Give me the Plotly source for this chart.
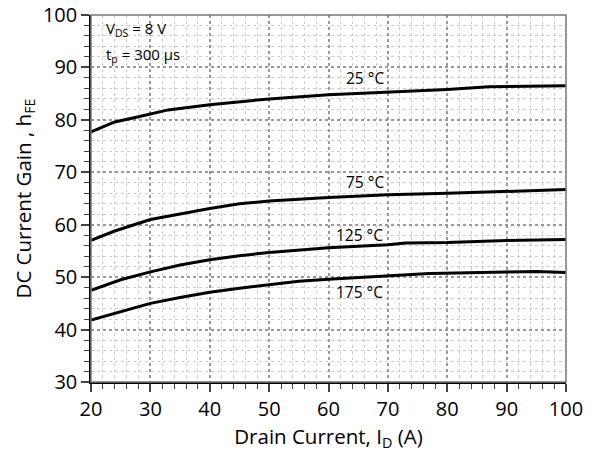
import plotly.graph_objects as go

x_25 = [20, 24, 28, 33, 40, 50, 60, 70, 80, 87, 100]
y_25 = [77.7, 79.6, 80.6, 81.9, 82.9, 84.0, 84.8, 85.3, 85.8, 86.3, 86.5]

x_75 = [20, 24, 30, 35, 40, 45, 50, 60, 70, 80, 90, 100]
y_75 = [57.0, 58.8, 61.0, 62.1, 63.1, 64.0, 64.5, 65.2, 65.7, 66.0, 66.3, 66.7]

x_125 = [20, 25, 30, 35, 40, 45, 50, 60, 70, 73, 80, 90, 100]
y_125 = [47.5, 49.5, 51.0, 52.3, 53.3, 54.1, 54.7, 55.6, 56.2, 56.5, 56.6, 57.0, 57.2]

x_175 = [20, 25, 30, 35, 40, 45, 50, 55, 60, 70, 77, 90, 95, 100]
y_175 = [41.8, 43.4, 45.0, 46.1, 47.1, 47.9, 48.5, 49.2, 49.6, 50.3, 50.7, 51.0, 51.1, 50.9]

labels = ["25 °C", "75 °C", "125 °C", "175 °C"]
label_x = [66.1, 66.1, 65.3, 65.3]
label_y = [88.0, 68.1, 58.0, 47.2]

font = "Open Sans"
fig = go.Figure()
for xs, ys in [(x_25, y_25), (x_75, y_75), (x_125, y_125), (x_175, y_175)]:
    fig.add_trace(go.Scatter(x=xs, y=ys, mode="lines", line=dict(color="black", width=3),
                             showlegend=False, hoverinfo="skip"))

for t, lx, ly in zip(labels, label_x, label_y):
    fig.add_annotation(x=lx, y=ly, text=t, showarrow=False, font=dict(family=font, size=15.5, color="black"))

fig.add_annotation(x=0.027, y=0.962, xref="paper", yref="paper", xanchor="left", yanchor="middle",
                   text="V<sub>DS</sub> = 8 V", showarrow=False, font=dict(family=font, size=15, color="black"))
fig.add_annotation(x=0.027, y=0.89, xref="paper", yref="paper", xanchor="left", yanchor="middle",
                   text="t<sub>p</sub> = 300 µs", showarrow=False, font=dict(family=font, size=15, color="black"))

fig.add_shape(type="rect", xref="paper", yref="paper", x0=0, y0=0, x1=1, y1=1,
              line=dict(color="#777777", width=1.5), layer="above")

axis_common = dict(
    automargin=False,
    showline=True, linecolor="black", linewidth=1.5,
    ticks="outside", ticklen=8, tickwidth=1.5, tickcolor="#444444",
    showgrid=True, gridcolor="#999999", griddash="dot", gridwidth=1.5,
    zeroline=False,
    tickfont=dict(family=font, size=20, color="black"),
    minor=dict(dtick=2, ticks="outside", ticklen=5, tickwidth=1.2, tickcolor="#444444",
               showgrid=True, gridcolor="#cccccc", griddash="dot", gridwidth=1),
)

fig.update_xaxes(range=[20, 100], dtick=10, tick0=20,
                 title=dict(text="Drain Current, I<sub>D</sub> (A)", font=dict(family=font, size=20.5, color="black"), standoff=6),
                 **axis_common)
fig.update_yaxes(range=[30, 100], dtick=10, tick0=30,
                 title=dict(text="DC Current Gain , h<sub>FE</sub>", font=dict(family=font, size=20.5, color="black"), standoff=6),
                 **axis_common)

fig.update_layout(width=597, height=458, margin=dict(l=91, r=31, t=15, b=76),
                  plot_bgcolor="white", paper_bgcolor="white")

fig.write_html("out.html", config={"displayModeBar": False},
               post_script="document.body.style.margin='0';document.body.style.overflow='hidden';")
